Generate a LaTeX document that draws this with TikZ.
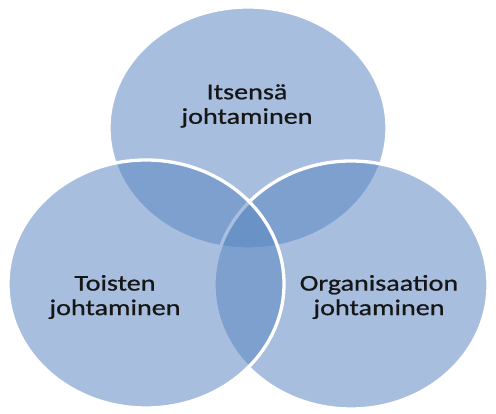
\documentclass[tikz,border=0pt]{standalone}
\usepackage{fontspec}
\setmainfont{Carlito}[FakeStretch=1.25,FakeBold=0.8]
\definecolor{vennbase}{RGB}{89,134,193}
\definecolor{labeltext}{RGB}{22,22,22}
\tikzset{
  venn/.style={fill=vennbase, fill opacity=0.53, draw=white, draw opacity=1, line width=3.3pt},
  vlabel/.style={align=center, text=labeltext, font=\fontsize{22.5}{24.5}\selectfont, inner sep=0pt}
}
\begin{document}
\begin{tikzpicture}[x=1pt,y=-1pt]
\useasboundingbox[fill=white] (0,0) rectangle (496,414);
% circles: top, right, left (drawing order)
\path[venn] (248,128) ellipse [x radius=139pt, y radius=121pt];
\path[venn] (351,285) ellipse [x radius=137pt, y radius=124pt];
\path[venn] (146,284) ellipse [x radius=138pt, y radius=124pt];
% labels
\node[vlabel] (self) at (247,106) {Itsensä\\johtaminen};
\node[vlabel] (others) at (115,297) {Toisten\\johtaminen};
\node[vlabel] (org) at (379,297) {Organisaation\\johtaminen};
\end{tikzpicture}
\end{document}
